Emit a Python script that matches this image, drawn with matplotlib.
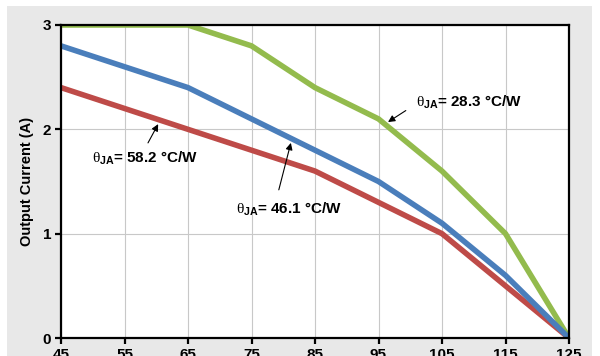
import numpy as np
import matplotlib.pyplot as plt
from matplotlib.patches import Rectangle

plt.rcParams['font.family'] = ['Liberation Sans', 'DejaVu Sans']
plt.rcParams['mathtext.fontset'] = 'custom'
plt.rcParams['mathtext.it'] = 'Liberation Serif'
plt.rcParams['mathtext.rm'] = 'Liberation Serif'
plt.rcParams['mathtext.bf'] = 'Liberation Sans:bold'

temps = [45, 55, 65, 75, 85, 95, 105, 115, 125]
i_283 = [3.0, 3.0, 3.0, 2.8, 2.4, 2.1, 1.6, 1.0, 0.0]
i_461 = [2.8, 2.6, 2.4, 2.1, 1.8, 1.5, 1.1, 0.6, 0.0]
i_582 = [2.4, 2.2, 2.0, 1.8, 1.6, 1.3, 1.0, 0.5, 0.0]

fig = plt.figure(figsize=(6, 3.56), dpi=100)
fig.patches.append(Rectangle((7/600, 0), 585/600, 350/356, transform=fig.transFigure,
                             facecolor='#e8e8e8', edgecolor='none', zorder=-5))
ax = fig.add_axes([61/600, 18/356, 508/600, 313/356])
ax.set_facecolor('white')

ax.plot(temps, i_283, color='#93bb4d', lw=4, solid_joinstyle='miter', zorder=3)
ax.plot(temps, i_461, color='#4a7ebb', lw=4, solid_joinstyle='miter', zorder=4)
ax.plot(temps, i_582, color='#be4b48', lw=4, solid_joinstyle='miter', zorder=2)

ax.set_xlim(45, 125)
ax.set_ylim(0, 3)
ax.set_xticks(temps)
ax.set_yticks([0, 1, 2, 3])
ax.grid(True, color='#c8c8c8', lw=0.8)
ax.set_axisbelow(True)
for s in ax.spines.values():
    s.set_linewidth(1.6)
    s.set_zorder(5)
ax.tick_params(direction='out', length=4, width=1.6, labelsize=11, pad=3)
for lab in ax.get_xticklabels() + ax.get_yticklabels():
    lab.set_fontweight('bold')
ax.set_ylabel('Output Current (A)', fontsize=10.5, fontweight='bold', labelpad=6)

# arrows
arw = dict(arrowstyle='-|>', color='black', lw=0.8, mutation_scale=10, shrinkA=0, shrinkB=0)
ax.annotate('', xy=(60.3, 2.05), xytext=(58.7, 1.87), arrowprops=arw)
ax.annotate('', xy=(81.2, 1.87), xytext=(79.3, 1.42), arrowprops=arw)
ax.annotate('', xy=(96.5, 2.07), xytext=(99.3, 2.18), arrowprops=arw)

# labels
kw = dict(fontsize=11, fontweight='bold', ha='left', va='center')
ax.text(49.9, 1.72, r'$\theta_{\mathbf{JA}}$= 58.2 °C/W', **kw)
ax.text(72.6, 1.23, r'$\theta_{\mathbf{JA}}$= 46.1 °C/W', **kw)
ax.text(100.9, 2.26, r'$\theta_{\mathbf{JA}}$= 28.3 °C/W', **kw)

fig.savefig('out.png', dpi=100, facecolor='white')
